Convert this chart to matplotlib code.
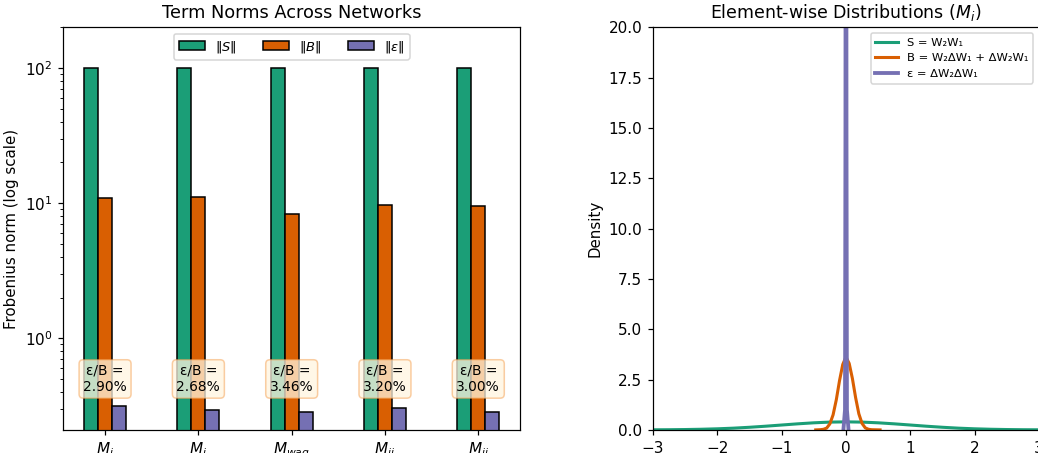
import numpy as np
import matplotlib.pyplot as plt

# term norms per network
networks = ["$M_i$", "$M_i$", "$M_{wag}$", "$M_{ii}$", "$M_{ii}$"]
norm_S = [100.0, 100.0, 100.0, 100.0, 100.0]
norm_B = [10.9, 11.1, 8.3, 9.6, 9.5]
norm_eps = [0.316, 0.297, 0.287, 0.307, 0.285]
ratio_labels = ["2.90%", "2.68%", "3.46%", "3.20%", "3.00%"]

# density curves
s_x = [-3.0, -2.75, -2.5, -2.25, -2.0, -1.75, -1.5, -1.25, -1.0, -0.75, -0.5, -0.25, 0.0,
       0.25, 0.5, 0.75, 1.0, 1.25, 1.5, 1.75, 2.0, 2.25, 2.5, 2.75, 3.0]
s_y = [0.005, 0.009, 0.018, 0.032, 0.054, 0.086, 0.13, 0.183, 0.242, 0.301, 0.352, 0.387, 0.399,
       0.387, 0.352, 0.301, 0.242, 0.183, 0.13, 0.086, 0.054, 0.032, 0.018, 0.009, 0.005]
b_x = [-0.47, -0.4, -0.35, -0.3, -0.25, -0.2, -0.15, -0.1, -0.05, 0.0,
       0.05, 0.1, 0.15, 0.2, 0.25, 0.3, 0.35, 0.4, 0.53]
b_y = [0.0, 0.01, 0.03, 0.09, 0.3, 0.75, 1.5, 2.45, 3.25, 3.62,
       3.3, 2.55, 1.6, 0.8, 0.32, 0.1, 0.03, 0.01, 0.0]
e_x = [-0.04, -0.015, -0.008, 0.0, 0.008, 0.015, 0.04]
e_y = [0.0, 1.0, 15.0, 60.0, 15.0, 1.0, 0.0]

green, orange, purple = "#1b9e77", "#d95f02", "#7570b3"

dpi = 110
fig = plt.figure(figsize=(1038 / dpi, 453 / dpi), dpi=dpi)
ax1 = fig.add_axes([0.061, 0.051, 0.440, 0.889])
ax2 = fig.add_axes([0.629, 0.051, 0.372, 0.889])

x = np.arange(len(networks))
w = 0.15
ax1.bar(x - w, norm_S, w, color=green, edgecolor="black", label=r"$\|S\|$")
ax1.bar(x, norm_B, w, color=orange, edgecolor="black", label=r"$\|B\|$")
ax1.bar(x + w, norm_eps, w, color=purple, edgecolor="black", label=r"$\|\varepsilon\|$")
ax1.set_yscale("log")
ax1.set_ylim(0.21, 200)
ax1.set_xticks(x)
ax1.set_xticklabels(networks, fontsize=10)
ax1.set_ylabel("Frobenius norm (log scale)", fontsize=9.8)
ax1.set_title("Term Norms Across Networks", fontsize=11.6)
ax1.legend(loc="upper center", ncol=3, fontsize=8.5)
for i, r in enumerate(ratio_labels):
    ax1.text(x[i], 0.5, "ε/B =\n" + r, ha="center", va="center", fontsize=9,
             bbox=dict(boxstyle="round", facecolor=(1.0, 0.96, 0.88, 0.75),
                       edgecolor=(0.96, 0.62, 0.3, 0.5)))

ax2.plot(s_x, s_y, color=green, lw=2, label="S = W₂W₁")
ax2.plot(b_x, b_y, color=orange, lw=2, label="B = W₂ΔW₁ + ΔW₂W₁")
ax2.plot(e_x, e_y, color=purple, lw=2.5, label="ε = ΔW₂ΔW₁")
ax2.set_xlim(-3, 3)
ax2.set_ylim(0, 20)
ax2.set_yticks(np.arange(0, 20.1, 2.5))
ax2.set_ylabel("Density", fontsize=9.8)
ax2.set_title("Element-wise Distributions ($M_i$)", fontsize=11.4)
ax2.legend(loc="upper right", fontsize=7.5)

fig.savefig("out.png", dpi=dpi)
